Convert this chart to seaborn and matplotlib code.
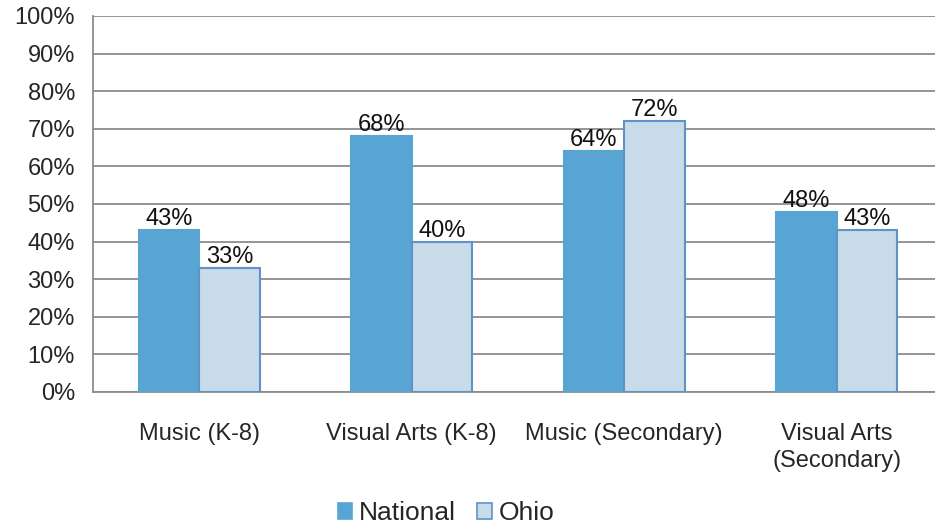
import matplotlib
matplotlib.use("Agg")
import matplotlib.pyplot as plt
import seaborn as sns
import pandas as pd
from matplotlib.patches import Patch

# data
categories = ["Music (K-8)", "Visual Arts (K-8)", "Music (Secondary)", "Visual Arts\n(Secondary)"]
national = [43, 68, 64, 48]
ohio = [33, 40, 72, 43]
series_names = ["National", "Ohio"]

df = pd.DataFrame({
    "Category": categories * 2,
    "Region": [series_names[0]] * 4 + [series_names[1]] * 4,
    "Value": national + ohio,
})

sns.set_style("white")
plt.rcParams["font.family"] = ["Liberation Sans", "DejaVu Sans"]

fill_colors = {"National": "#58A5D3", "Ohio": "#C8DBE9"}
edge_colors = {"National": "#58A5D3", "Ohio": "#5E93C8"}
grid_col = "#8C8C8C"

fig = plt.figure(figsize=(9.35, 5.29), dpi=100)
ax = fig.add_axes([93 / 935, 137 / 529, 850 / 935, 376 / 529])

sns.barplot(data=df, x="Category", y="Value", hue="Region", palette=fill_colors,
            width=0.57, ax=ax, legend=False, zorder=3, saturation=1)

# edges + data labels
for cont, name in zip(ax.containers, series_names):
    for bar in cont:
        bar.set_edgecolor(edge_colors[name])
        bar.set_linewidth(1.5)
    ax.bar_label(cont, labels=[f"{int(v)}%" for v in cont.datavalues],
                 padding=0, fontsize=17, color="#111111")

ax.set_ylim(0, 100)
ax.set_xlim(-0.5, 3.5)
ax.set_yticks(range(0, 101, 10))
ax.set_yticklabels([f"{v}%" for v in range(0, 101, 10)], fontsize=17)
ax.yaxis.grid(True, color=grid_col, linewidth=1.3, zorder=0)
ax.set_axisbelow(True)
ax.tick_params(axis="y", length=7, width=1.3, color=grid_col, pad=6)

# category labels at centres, tick marks at boundaries
ax.set_xticks(range(4))
ax.set_xticklabels(categories, fontsize=17)
for lbl in ax.get_xticklabels():
    lbl.set_linespacing(1.3)
ax.tick_params(axis="x", which="major", length=0, pad=22)
ax.set_xticks([-0.5, 0.5, 1.5, 2.5, 3.5], minor=True)
ax.tick_params(axis="x", which="minor", length=7, width=1.3, color=grid_col)

ax.set_xlabel("")
ax.set_ylabel("")
for side in ["top", "right"]:
    ax.spines[side].set_visible(False)
for side in ["left", "bottom"]:
    ax.spines[side].set_color(grid_col)
    ax.spines[side].set_linewidth(1.3)

handles = [Patch(facecolor=fill_colors[n], edgecolor=edge_colors[n], linewidth=1.2) for n in series_names]
fig.legend(handles, series_names, loc="center", bbox_to_anchor=(446 / 935, 1 - 513 / 529),
           ncol=2, frameon=False, fontsize=19, handlelength=0.55, handleheight=0.55,
           handletextpad=0.25, columnspacing=0.8, borderpad=0)

plt.savefig("out.png", dpi=100)
